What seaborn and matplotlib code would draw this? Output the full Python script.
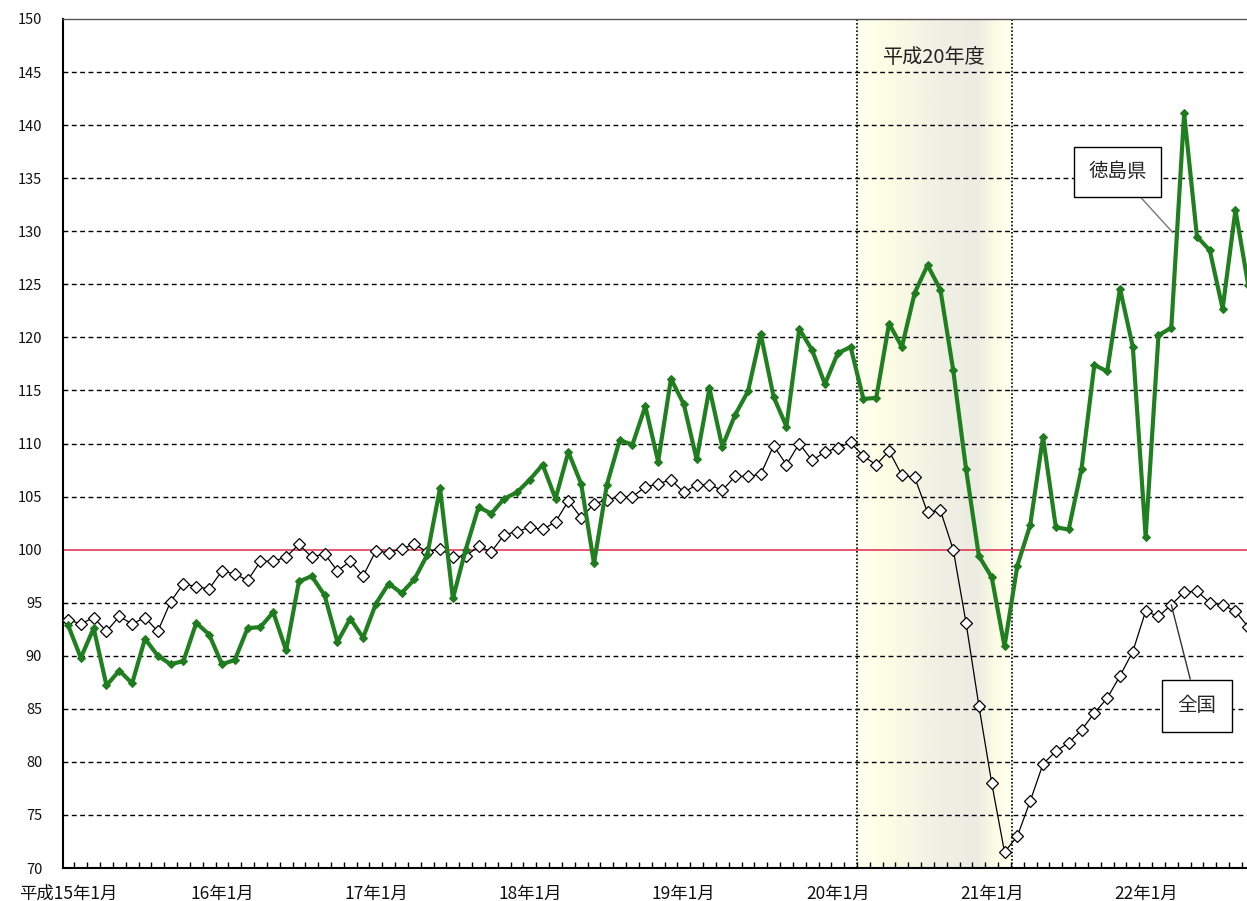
import numpy as np
import pandas as pd
import matplotlib
matplotlib.use("Agg")
from matplotlib import pyplot as plt
from matplotlib.colors import LinearSegmentedColormap
import seaborn as sns

# monthly index, Jan H15 (2003) .. Sep H22 (2010)
tokushima = [
    92.9, 89.8, 92.6, 87.2, 88.6, 87.4, 91.6, 90.0, 89.2, 89.5, 93.1, 92.0,
    89.2, 89.6, 92.6, 92.7, 94.1, 90.5, 97.0, 97.5, 95.7, 91.3, 93.5, 91.7,
    94.9, 96.8, 95.9, 97.2, 99.5, 105.8, 95.4, 100.0, 104.0, 103.4, 104.8, 105.4,
    106.6, 108.0, 104.8, 109.2, 106.2, 98.7, 106.1, 110.3, 109.9, 113.5, 108.3, 116.1,
    113.7, 108.5, 115.2, 109.7, 112.7, 114.9, 120.3, 114.4, 111.6, 120.8, 118.8, 115.6,
    118.5, 119.1, 114.2, 114.3, 121.3, 119.1, 124.2, 126.8, 124.5, 116.9, 107.6, 99.4,
    97.4, 90.9, 98.5, 102.3, 110.6, 102.1, 101.9, 107.6, 117.4, 116.8, 124.6, 119.1,
    101.2, 120.2, 120.9, 141.1, 129.5, 128.2, 122.7, 132.0, 124.9,
]
national = [
    93.4, 93.0, 93.6, 92.3, 93.7, 93.0, 93.6, 92.3, 95.1, 96.8, 96.5, 96.3,
    98.0, 97.7, 97.1, 98.9, 98.9, 99.3, 100.5, 99.3, 99.6, 98.0, 98.9, 97.5,
    99.9, 99.7, 100.1, 100.5, 99.8, 100.1, 99.3, 99.4, 100.3, 99.8, 101.4, 101.7,
    102.1, 101.9, 102.6, 104.6, 103.0, 104.3, 104.7, 105.0, 105.0, 105.9, 106.2, 106.6,
    105.4, 106.1, 106.1, 105.6, 106.9, 106.9, 107.1, 109.8, 108.0, 110.0, 108.4, 109.2,
    109.6, 110.1, 108.8, 108.0, 109.3, 107.0, 106.8, 103.5, 103.7, 100.0, 93.1, 85.3,
    78.0, 71.5, 73.0, 76.3, 79.8, 81.0, 81.8, 83.0, 84.6, 86.0, 88.1, 90.4,
    94.2, 93.7, 94.8, 96.0, 96.1, 95.0, 94.8, 94.2, 92.7,
]
year_labels = ["平成15年1月", "16年1月", "17年1月", "18年1月",
               "19年1月", "20年1月", "21年1月", "22年1月"]
fiscal_label = "平成20年度"
fiscal_span = (61.5, 73.55)

df = pd.DataFrame({
    "month": np.arange(len(tokushima)),
    "tokushima": tokushima,
    "national": national,
})

sns.set_theme(style="white")
plt.rcParams["font.family"] = ["Noto Sans CJK JP", "DejaVu Sans"]

fig = plt.figure(figsize=(12.47, 9.01), dpi=100)
ax = fig.add_axes([63 / 1247, 1 - 868 / 901, 1184 / 1247, 849 / 901])

# shaded fiscal-year band with a soft gradient
band_cmap = LinearSegmentedColormap.from_list(
    "band",
    [(0.0, "#fffff0"), (0.2, "#fdfde4"), (0.55, "#efefe4"),
     (0.78, "#ececE2"), (0.9, "#fcfce6"), (1.0, "#fffff0")],
)
ax.imshow(np.linspace(0, 1, 200)[None, :], cmap=band_cmap, aspect="auto",
          extent=(fiscal_span[0], fiscal_span[1], 70, 150), zorder=0.5)
ax.vlines(fiscal_span, 70, 150, colors="black", linestyles=(0, (1, 1.2)),
          linewidth=1.2, zorder=1.2)
ax.text(sum(fiscal_span) / 2, 146.4, fiscal_label, ha="center", va="center",
        fontsize=14.5, color="#222222", zorder=3)

# dashed gridlines
for v in range(75, 150, 5):
    if v == 100:
        continue
    ax.axhline(v, color="black", linewidth=1, linestyle=(0, (3.5, 2.5)), zorder=1)
ax.axhline(100, color="#e0284a", linewidth=1.1, zorder=1.5)

sns.lineplot(data=df, x="month", y="national", ax=ax, color="black",
             linewidth=0.9, marker="D", markersize=6, markerfacecolor="white",
             markeredgecolor="black", markeredgewidth=0.9, zorder=3)
sns.lineplot(data=df, x="month", y="tokushima", ax=ax, color="#208020",
             linewidth=3, marker="D", markersize=4, markerfacecolor="#1e7b1e",
             markeredgecolor="#1e7b1e", zorder=4)

ax.annotate("徳島県", xy=(86.1, 129.9), xytext=(81.8, 135.6),
            ha="center", va="center", fontsize=14, zorder=6,
            bbox=dict(boxstyle="square,pad=0.75", fc="white", ec="black", lw=1),
            arrowprops=dict(arrowstyle="-", color="#777777", lw=1,
                            shrinkA=0, shrinkB=0))
ax.annotate("全国", xy=(86.0, 94.8), xytext=(88.0, 85.3),
            ha="center", va="center", fontsize=14, zorder=6,
            bbox=dict(boxstyle="square,pad=0.8", fc="white", ec="black", lw=1),
            arrowprops=dict(arrowstyle="-", color="#333333", lw=1,
                            shrinkA=0, shrinkB=0))

ax.set_xlim(-0.39, 91.9)
ax.set_ylim(70, 150)
ax.set_yticks(range(70, 151, 5))
ax.set_xticks(np.arange(0, 85, 12))
ax.set_xticklabels(year_labels)
ax.set_xticks(np.arange(0.5, 92, 1), minor=True)
ax.tick_params(axis="y", length=0, pad=15, labelsize=10.5, labelcolor="#111111")
ax.tick_params(axis="x", which="major", length=0, pad=12, labelsize=12.5,
               labelcolor="#111111")
ax.tick_params(axis="x", which="minor", direction="in", length=4, width=1,
               color="black", bottom=True)
ax.set_xlabel("")
ax.set_ylabel("")

for side in ("left", "bottom"):
    ax.spines[side].set_color("black")
    ax.spines[side].set_linewidth(1.5)
ax.spines["top"].set_color("#555555")
ax.spines["top"].set_linewidth(1)
ax.spines["right"].set_visible(False)
ax.grid(False)

fig.savefig("out.png", dpi=100)
